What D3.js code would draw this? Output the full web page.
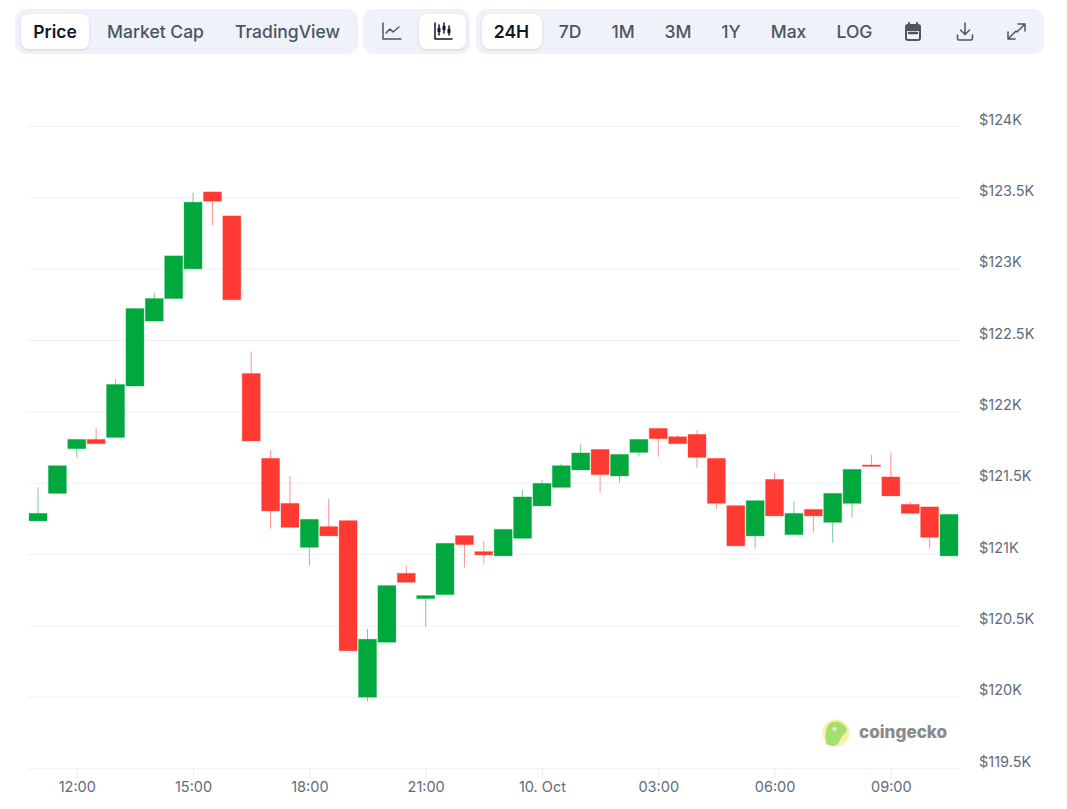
<!DOCTYPE html>
<html>
<head>
<meta charset="utf-8">
<script src="https://cdn.jsdelivr.net/npm/d3@7"></script>
<style>
  html, body { margin: 0; padding: 0; background: #fff; }
  svg { display: block; font-family: Inter, "Noto Sans", sans-serif; }
  .btn { font-size: 17.5px; font-weight: 500; fill: #4b5563; text-anchor: middle; -webkit-text-stroke: 0.2px #4b5563; }
  .btn.on { fill: #111827; font-weight: 600; -webkit-text-stroke: 0; }
  .axis text { font-size: 14.5px; fill: #5f6b7c; font-family: Inter, sans-serif; }
  .axis .domain { display: none; }
</style>
</head>
<body>
<svg id="chart" width="1067" height="809"></svg>
<script>
// candles, half hour apart
var times = ["09 11:00","09 11:30","09 12:00","09 12:30","09 13:00","09 13:30","09 14:00","09 14:30",
  "09 15:00","09 15:30","09 16:00","09 16:30","09 17:00","09 17:30","09 18:00","09 18:30",
  "09 19:00","09 19:30","09 20:00","09 20:30","09 21:00","09 21:30","09 22:00","09 22:30",
  "09 23:00","09 23:30","10 00:00","10 00:30","10 01:00","10 01:30","10 02:00","10 02:30",
  "10 03:00","10 03:30","10 04:00","10 04:30","10 05:00","10 05:30","10 06:00","10 06:30",
  "10 07:00","10 07:30","10 08:00","10 08:30","10 09:00","10 09:30","10 10:00","10 10:30"];
var opens = [121236,121429,121742,121807,121821,122181,122636,122794,123002,123541,123373,122269,
  121674,121359,121051,121196,121238,120001,120386,120869,120692,120720,121133,121021,
  120991,121114,121341,121471,121593,121737,121551,121716,121884,121826,121842,121674,
  121343,121131,121527,121140,121317,121226,121359,121628,121544,121352,121334,120991];
var closes = [121289,121623,121807,121777,122192,122724,122794,123093,123469,123476,122785,121796,
  121306,121191,121247,121131,120326,120407,120783,120806,120713,121079,121070,120998,
  121177,121404,121499,121623,121712,121560,121702,121807,121812,121777,121681,121359,
  121061,121378,121271,121289,121271,121429,121597,121618,121411,121289,121121,121282];
var highs = [121471,121623,121807,121889,122230,122724,122836,123093,123536,123541,123373,122423,
  121733,121551,121247,121390,121238,120480,120783,120921,120713,121079,121133,121096,
  121177,121453,121523,121635,121775,121737,121702,121807,121884,121838,121873,121674,
  121343,121378,121574,121376,121317,121429,121597,121698,121714,121373,121334,121282];
var lows = [121236,121429,121679,121777,121821,122181,122636,122794,123002,123308,122785,121796,
  121182,121191,120925,121131,120326,119971,120386,120806,120496,120720,120909,120937,
  120991,121114,121341,121471,121593,121434,121504,121686,121686,121777,121609,121322,
  121061,121042,121271,121140,121154,121084,121259,121618,121411,121289,121042,120991];

var yTicks = [119500,120000,120500,121000,121500,122000,122500,123000,123500,124000];
var yLabels = ["$119.5K","$120K","$120.5K","$121K","$121.5K","$122K","$122.5K","$123K","$123.5K","$124K"];
var xTicks = ["09 12:00","09 15:00","09 18:00","09 21:00","10 00:00","10 03:00","10 06:00","10 09:00"];
var xLabels = ["12:00","15:00","18:00","21:00","10. Oct","03:00","06:00","09:00"];

var tabNames = ["Price","Market Cap","TradingView","24H","7D","1M","3M","1Y","Max","LOG"];
var tabActive = ["Price","24H"];

var parseTime = d3.utcParse("%d %H:%M");
var parseDay = function(s) { return parseTime(s); };

var svg = d3.select("#chart");
var defs = svg.append("defs");
var shadow = defs.append("filter").attr("id", "pill").attr("x", "-20%").attr("y", "-20%").attr("width", "140%").attr("height", "150%");
shadow.append("feDropShadow").attr("dx", 0).attr("dy", 1).attr("stdDeviation", 1.5).attr("flood-color", "#94a3b8").attr("flood-opacity", 0.35);

// toolbar
var groups = [[15,343],[363,107],[476,568]];
var pills = [[21,68],[419,47],[482,60]];
var tabX = [55,155.5,287.5,511.5,570,623,678,731,788.5,854.5];

svg.selectAll(".group").data(groups).enter().append("rect")
  .attr("class", "group")
  .attr("x", function(d) { return d[0]; }).attr("y", 9)
  .attr("width", function(d) { return d[1]; }).attr("height", 45)
  .attr("rx", 11).attr("fill", "#eff2f8");

svg.selectAll(".pill").data(pills).enter().append("rect")
  .attr("class", "pill")
  .attr("x", function(d) { return d[0]; }).attr("y", 14)
  .attr("width", function(d) { return d[1]; }).attr("height", 35)
  .attr("rx", 8).attr("fill", "#fff").attr("filter", "url(#pill)");

svg.selectAll(".btn").data(tabNames).enter().append("text")
  .attr("class", function(d) { return tabActive.indexOf(d) >= 0 ? "btn on" : "btn"; })
  .attr("x", function(d, i) { return tabX[i]; })
  .attr("y", 37.500)
  .text(function(d) { return d; });

// small toolbar icons
var icons = svg.append("g").attr("fill", "none").attr("stroke", "#4b5563").attr("stroke-width", 1.5)
  .attr("stroke-linecap", "round").attr("stroke-linejoin", "round");
icons.append("path").attr("d", "M383 23V39H401M386 33L390 29L393 32L399 27");
icons.append("path").attr("d", "M435 23V39H452").attr("stroke", "#111827");
icons.append("path").attr("d", "M439 25V35M444 23V33M449 26V35").attr("stroke", "#111827");
icons.append("path").attr("d", "M437.5 28h3v4h-3zM442.5 26h3v4h-3zM447.5 29h3v4h-3z").attr("fill", "#111827").attr("stroke", "none");
icons.append("rect").attr("x", 906).attr("y", 25).attr("width", 14).attr("height", 15).attr("rx", 2).attr("stroke-width", 2);
icons.append("path").attr("d", "M906 27H920V30H906ZM909 23V26M917 23V26").attr("stroke-width", 2).attr("fill", "#4b5563");
icons.append("path").attr("d", "M909 33H917").attr("stroke-width", 2.5);
icons.append("path").attr("d", "M965 23V34M960.500 30L965 34.500L969.500 30M957.500 35V38.500Q957.500 40 959 40H971Q972.500 40 972.500 38.500V35");
icons.append("path").attr("d", "M1018 24H1025V31M1025 24L1017 32M1015 39H1008V32M1008 39L1016 31");

// scales
var x = d3.scaleUtc().domain([parseDay(times[0]), parseDay(times[times.length - 1])]).range([38, 949]);
var y = d3.scaleLinear().domain([119500, 124000]).range([768.7, 126.4]);

// gridlines
svg.append("g").selectAll("line").data(yTicks).enter().append("line")
  .attr("x1", 28).attr("x2", 960)
  .attr("y1", function(d) { return y(d); }).attr("y2", function(d) { return y(d); })
  .attr("stroke", "#f0f1f4").attr("stroke-width", 1);

// axes
var yAxis = d3.axisRight(y).tickValues(yTicks).tickSize(0).tickPadding(0)
  .tickFormat(function(d, i) { return yLabels[i]; });
svg.append("g").attr("class", "axis").attr("transform", "translate(979,-7)").call(yAxis);

var xAxis = d3.axisBottom(x).tickValues(xTicks.map(parseDay)).tickSize(10).tickPadding(3)
  .tickFormat(function(d, i) { return xLabels[i]; });
var xg = svg.append("g").attr("class", "axis").attr("transform", "translate(0,769)").call(xAxis);
xg.selectAll("line").attr("stroke", "#e8eaee");

// candles
var candles = times.map(function(t, i) {
  return { t: parseDay(t), o: opens[i], c: closes[i], h: highs[i], l: lows[i] };
});
var colour = function(d) { return d.c >= d.o ? "#00a83e" : "#ff3a33"; };
var bodyW = 18;

var candle = svg.append("g").selectAll("g").data(candles).enter().append("g");
candle.append("line")
  .attr("x1", function(d) { return x(d.t); }).attr("x2", function(d) { return x(d.t); })
  .attr("y1", function(d) { return y(d.h); }).attr("y2", function(d) { return y(d.l); })
  .attr("stroke", colour).attr("stroke-width", 1).attr("stroke-opacity", 0.55);
candle.append("rect")
  .attr("x", function(d) { return x(d.t) - bodyW / 2; })
  .attr("y", function(d) { return y(Math.max(d.o, d.c)); })
  .attr("width", bodyW)
  .attr("height", function(d) { return Math.abs(y(d.o) - y(d.c)); })
  .attr("fill", colour).attr("stroke", colour).attr("stroke-opacity", 0.3).attr("stroke-width", 1);

// watermark
var logo = svg.append("g");
logo.append("circle").attr("cx", 836).attr("cy", 733).attr("r", 13.500).attr("fill", "#fbeeaa");
logo.append("path").attr("d", "M826 744Q824 728 830 723Q838 719 844 725Q848 729 846 732Q842 736 840 740Q838 745 834 746Q829 746 826 744Z").attr("fill", "#a3e06e");
logo.append("circle").attr("cx", 834.500).attr("cy", 729).attr("r", 2).attr("fill", "#e9e9e9");
logo.append("text").attr("x", 859).attr("y", 738).attr("font-family", "Inter, sans-serif").attr("font-size", 17.100).attr("font-weight", 800).attr("fill", "#8a8a8a").text("coingecko");
</script>
</body>
</html>
